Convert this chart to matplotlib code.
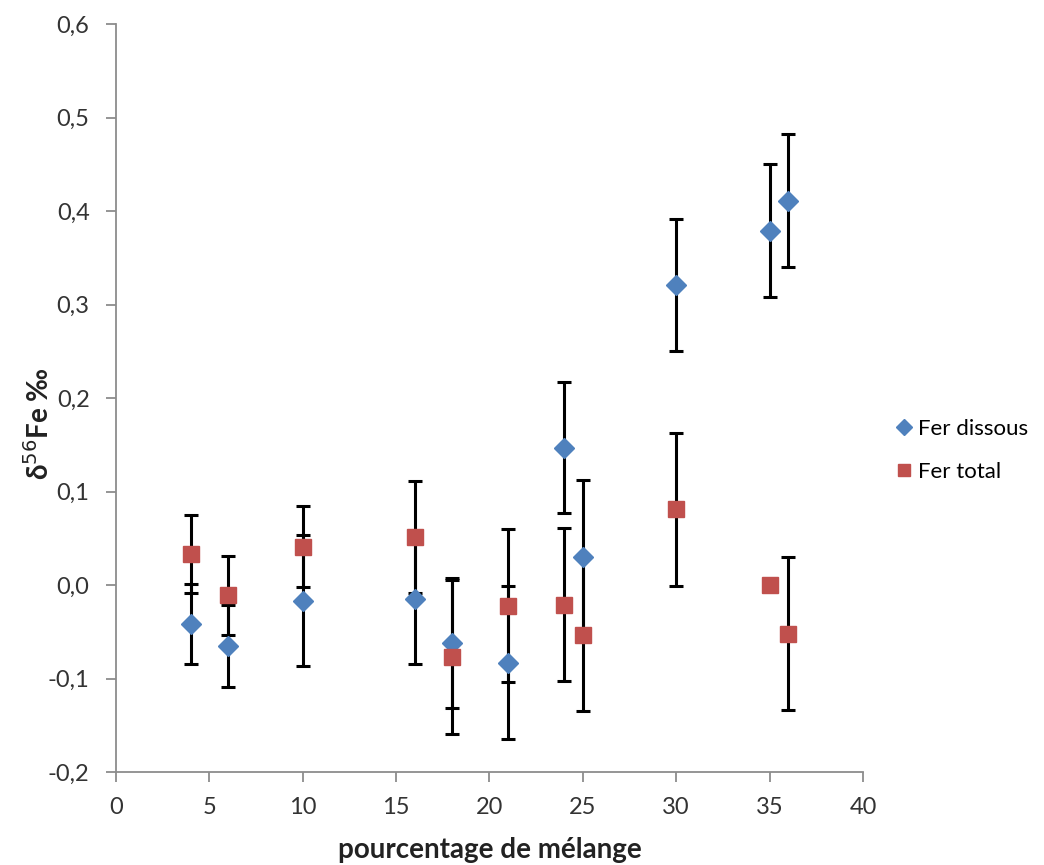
import matplotlib
matplotlib.use("Agg")
import matplotlib.pyplot as plt
from matplotlib.ticker import FuncFormatter

plt.rcParams['font.family'] = ['Lato', 'DejaVu Sans']

# Data
x_dissous = [4, 6, 10, 16, 18, 21, 24, 25, 30, 35, 36]
y_dissous = [-0.042, -0.065, -0.017, -0.015, -0.062, -0.083, 0.147, 0.030, 0.321, 0.379, 0.411]
err_dissous = [0.043, 0.044, 0.070, 0.070, 0.070, 0.082, 0.070, 0.082, 0.071, 0.071, 0.071]

x_total = [4, 6, 10, 16, 18, 21, 24, 25, 30, 35, 36]
y_total = [0.033, -0.011, 0.041, 0.051, -0.077, -0.022, -0.021, -0.053, 0.081, 0.000, -0.052]
err_total = [0.042, 0.042, 0.043, 0.060, 0.082, 0.082, 0.082, 0.082, 0.082, 0.0, 0.082]

xticks = [0, 5, 10, 15, 20, 25, 30, 35, 40]
yticks = [-0.2, -0.1, 0.0, 0.1, 0.2, 0.3, 0.4, 0.5, 0.6]

fig = plt.figure(figsize=(10.44, 8.65), dpi=100)
ax = fig.add_axes([0.1111, 0.1075, 0.7155, 0.8647])

eb_kw = dict(ecolor='black', elinewidth=2.2, capsize=5, capthick=2.2, linestyle='none', zorder=2)
ax.errorbar(x_dissous, y_dissous, yerr=err_dissous, fmt='none', **eb_kw)
ax.errorbar(x_total, y_total, yerr=err_total, fmt='none', **eb_kw)

ax.plot(x_dissous, y_dissous, linestyle='none', marker='D', markersize=10.5,
        color='#4F81BD', markeredgecolor='#4F81BD', label='Fer dissous', zorder=3)
ax.plot(x_total, y_total, linestyle='none', marker='s', markersize=12,
        color='#C0504D', markeredgecolor='#C0504D', label='Fer total', zorder=3)

ax.set_xlim(0, 40)
ax.set_ylim(-0.2, 0.6)
ax.set_xticks(xticks)
ax.set_yticks(yticks)
ax.yaxis.set_major_formatter(FuncFormatter(lambda v, p: f"{v:.1f}".replace('.', ',').replace('-0,0', '0,0')))

for s in ['top', 'right']:
    ax.spines[s].set_visible(False)
for s in ['left', 'bottom']:
    ax.spines[s].set_color('#8C8C8C')
    ax.spines[s].set_linewidth(1.3)
ax.tick_params(axis='both', colors='#8C8C8C', length=7, width=1.3, direction='out',
               labelcolor='#333333', labelsize=17)
ax.tick_params(axis='x', pad=11)
ax.tick_params(axis='y', pad=12)

ax.set_xlabel('pourcentage de mélange', fontsize=20, fontweight='bold', color='#222222',
              va='center')
ax.xaxis.set_label_coords(0.5, -0.104)
ax.set_ylabel('δ$^{56}$Fe ‰', fontsize=20, fontweight='bold', color='#222222')
ax.yaxis.set_label_coords(-0.083, 0.465)

leg = ax.legend(loc='center left', bbox_to_anchor=(1.01, 0.43), frameon=False,
                fontsize=16, handletextpad=0.05, labelspacing=1.05, markerscale=0.75,
                handlelength=1.2)

fig.savefig('out.png', dpi=100, facecolor='white')
